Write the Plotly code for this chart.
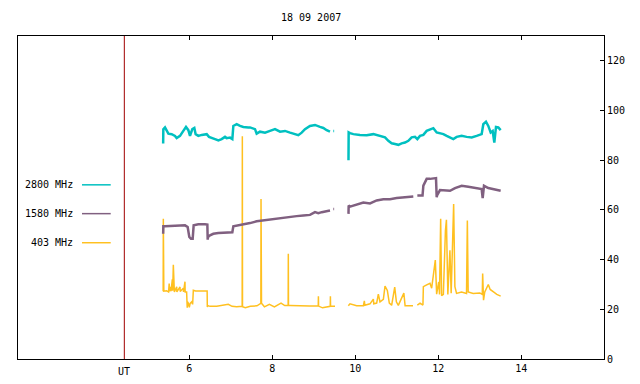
import plotly.graph_objects as go

# ---- data (UT hours, flux) ----
t2800 = [5.370, 5.374, 5.414, 5.455, 5.495, 5.575, 5.655, 5.696, 5.776, 5.856, 5.920, 5.977,
         6.017, 6.073, 6.121, 6.153, 6.218, 6.298, 6.419, 6.475, 6.539, 6.619, 6.700, 6.780,
         6.860, 6.900, 6.981, 7.037, 7.061, 7.141, 7.222, 7.302, 7.422, 7.463, 7.583, 7.623,
         7.704, 7.824, 7.945, 8.065, 8.186, 8.306, 8.427, 8.547, 8.627, 8.708, 8.788, 8.908,
         9.029, 9.149, 9.230, 9.310, 9.390, 9.420, 9.471, 9.490, 9.660,
         9.836, 9.840, 9.872, 9.953, 10.113, 10.274, 10.435, 10.595, 10.716, 10.796, 10.876,
         10.957, 11.037, 11.117, 11.198, 11.278, 11.358, 11.439, 11.495, 11.559, 11.640,
         11.720, 11.801, 11.881, 11.961, 12.041, 12.122, 12.202, 12.282, 12.362, 12.443,
         12.563, 12.684, 12.804, 12.925, 13.045, 13.085, 13.149, 13.205, 13.262, 13.310,
         13.350, 13.390, 13.446, 13.503]
f2800 = [86.7, 92.5, 93.2, 91.8, 90.7, 90.5, 89.8, 88.9, 89.8, 91.8, 93.4, 92.1,
         89.8, 92.5, 93.0, 90.5, 89.8, 90.2, 90.5, 89.4, 89.1, 88.5, 88.0, 88.5,
         89.4, 88.9, 89.1, 88.5, 93.8, 94.5, 93.8, 93.4, 93.2, 93.2, 92.5, 90.7,
         91.5, 91.1, 91.8, 92.5, 91.5, 91.8, 91.1, 90.5, 90.1, 91.1, 92.5, 93.8,
         94.2, 93.4, 93.0, 92.1, 91.5, None, 91.8, 91.8, None,
         80.0, 91.2, 90.9, 90.5, 90.2, 90.1, 90.5, 89.8, 89.2, 87.8, 86.8,
         86.5, 86.2, 86.8, 87.1, 87.8, 89.2, 89.4, 88.5, 89.8, 90.2,
         91.8, 92.5, 92.9, 91.2, 90.9, 90.5, 89.8, 89.2, 88.5, 89.4,
         89.8, 89.4, 89.2, 89.8, 90.5, 94.5, 95.5, 93.8, 91.2, 91.8,
         87.1, 93.4, 93.2, 92.1]

t1580 = [5.370, 5.374, 5.414, 5.575, 5.736, 5.896, 5.960, 6.000, 6.040, 6.081, 6.105,
         6.218, 6.378, 6.435, 6.443, 6.450, 6.499, 6.579, 6.700, 6.860, 6.981, 7.037,
         7.061, 7.181, 7.342, 7.463, 7.623, 7.784, 7.945, 8.106, 8.266, 8.427, 8.587,
         8.748, 8.908, 9.029, 9.109, 9.190, 9.270, 9.390, 9.420, 9.471, 9.490, 9.660,
         9.836, 9.840, 9.872, 10.033, 10.194, 10.354, 10.515, 10.676, 10.836, 10.997,
         11.158, 11.318, 11.398, 11.440, 11.495, 11.560, 11.620, 11.640, 11.720, 11.801,
         11.945, 11.961, 11.970, 12.041, 12.202, 12.282, 12.403, 12.563, 12.724, 12.885,
         13.045, 13.069, 13.101, 13.205, 13.326, 13.407, 13.503]
f1580 = [50.4, 53.4, 53.4, 53.5, 53.4, 53.8, 53.1, 49.1, 48.4, 48.4, 53.8,
         54.2, 54.2, 54.1, 48.0, 49.1, 49.8, 50.4, 50.7, 50.8, 51.0, 51.0,
         53.4, 53.8, 54.1, 54.7, 55.4, 55.8, 56.2, 56.4, 56.8, 57.1, 57.5,
         57.8, 58.0, 59.1, 58.7, 59.1, 59.5, 59.8, None, 60.4, 60.4, None,
         58.4, 61.8, 61.3, 62.1, 63.0, 62.6, 63.8, 64.3, 64.3, 64.8,
         65.1, 65.1, 65.4, None, 65.8, 65.8, 65.8, 69.8, 72.5, 72.5,
         72.8, 65.1, 65.8, 68.0, 68.0, 67.7, 68.8, 69.7, 69.3, 68.8,
         68.4, 64.8, 69.7, 68.8, 68.4, 68.0, 67.7]

t403 = [5.370, 5.374, 5.378, 5.382, 5.386, 5.450, 5.500, 5.515, 5.525, 5.551, 5.560,
        5.591, 5.600, 5.615, 5.622, 5.631, 5.640, 5.696, 5.700, 5.776, 5.780, 5.856,
        5.860, 5.896, 5.900, 5.935, 5.937, 5.950, 5.960, 5.977, 6.000, 6.020, 6.057,
        6.080, 6.097, 6.150, 6.250, 6.350, 6.430, 6.434, 6.450, 6.499, 6.660, 6.940,
        7.030, 7.141, 7.274, 7.278, 7.282, 7.350, 7.470, 7.630, 7.724, 7.728, 7.732,
        7.740, 7.810, 7.930, 8.050, 8.210, 8.300, 8.382, 8.386, 8.390, 8.430, 8.660,
        8.900, 9.107, 9.111, 9.115, 9.210, 9.310, 9.396, 9.400, 9.404, 9.511, 9.600,
        9.832, 9.872, 10.033, 10.194, 10.218, 10.230, 10.354, 10.435, 10.445, 10.515,
        10.555, 10.595, 10.676, 10.716, 10.772, 10.820, 10.876, 10.950, 10.990, 11.037,
        11.170, 11.200, 11.390, 11.440,
        11.495, 11.560, 11.630, 11.640, 11.720, 11.800, 11.840, 11.896, 11.928, 11.960,
        12.010, 12.030, 12.057, 12.080, 12.122, 12.172, 12.196, 12.230, 12.280, 12.310,
        12.346, 12.370, 12.400, 12.440, 12.560, 12.680, 12.700, 12.720, 12.840, 13.000,
        13.060, 13.069, 13.090, 13.120, 13.205, 13.250, 13.330, 13.410, 13.503]
f403 = [27.3, 56.4, 27.3, 44.4, 27.3, 27.5, 27.0, 30.4, 27.2, 29.1, 27.3,
        32.1, 27.5, 37.9, 27.5, 31.7, 27.0, 29.1, 27.0, 29.0, 27.2, 28.5,
        27.0, 31.1, 27.0, 27.0, 23.0, 20.6, 23.0, 22.4, 20.8, 22.4, 23.0,
        22.0, 27.7, 27.4, 27.4, 27.4, 27.4, 20.9, 21.5, 21.2, 21.2, 22.0,
        21.2, 21.0, 21.2, 89.7, 21.0, 20.6, 21.2, 21.4, 22.4, 64.4, 23.0,
        22.4, 21.0, 22.0, 21.0, 22.5, 21.5, 21.5, 42.4, 21.5, 21.5, 21.3,
        21.3, 21.3, 25.3, 21.3, 20.6, 21.0, 21.2, 25.3, 21.2, 21.2, None,
        21.4, 22.2, 21.4, 21.4, 23.4, 21.6, 22.2, 24.1, 22.2, 22.5,
        26.1, 23.0, 24.0, 29.3, 27.6, 22.5, 21.6, 28.9, 23.0, 21.6,
        26.5, 21.4, 21.4, None,
        21.7, 22.5, 21.7, 29.1, 29.8, 30.5, 28.5, 37.1, 39.8, 26.1,
        31.0, 26.0, 56.4, 25.5, 26.0, 51.7, 56.0, 26.0, 43.8, 26.5,
        48.4, 62.4, 29.1, 26.4, 27.0, 26.4, 55.7, 27.0, 26.4, 26.6,
        26.0, 34.4, 23.7, 27.0, 30.0, 28.0, 27.0, 26.0, 25.3]

x_ticks = [6, 8, 10, 12, 14]
y_ticks = [0, 20, 40, 60, 80, 100, 120]
ut_time = 4.434
series_names = ["2800 MHz", "1580 MHz", "403 MHz"]
title_text = "18 09 2007"

FONT = "DejaVu Sans Mono"
C2800, C1580, C403 = "#00c0c0", "#806080", "#ffc020"

fig = go.Figure()
fig.add_trace(go.Scatter(x=t403, y=f403, mode="lines", line=dict(color=C403, width=1.5), showlegend=False))
fig.add_trace(go.Scatter(x=t1580, y=f1580, mode="lines", line=dict(color=C1580, width=2.5), showlegend=False))
fig.add_trace(go.Scatter(x=t2800, y=f2800, mode="lines", line=dict(color=C2800, width=2.5), showlegend=False))

# red UT marker line
fig.add_shape(type="line", x0=ut_time, x1=ut_time, y0=0, y1=130, xref="x", yref="y",
              line=dict(color="#a00000", width=1))
fig.add_annotation(x=ut_time, y=0, xref="x", yref="y", yshift=-12, yanchor="middle",
                   text="UT", showarrow=False,
                   font=dict(family=FONT, size=10, color="black"))

# manual legend (text left, sample line right)
leg_y = [70.1, 58.5, 46.8]
leg_col = [C2800, C1580, C403]
for name, yy, col in zip(series_names, leg_y, leg_col):
    fig.add_annotation(x=3.25, y=yy, xref="x", yref="y", text=name, showarrow=False,
                       xanchor="right", yanchor="middle",
                       font=dict(family=FONT, size=10, color="black"))
    fig.add_shape(type="line", x0=3.414, x1=4.106, y0=yy, y1=yy, xref="x", yref="y",
                  line=dict(color=col, width=1.5))

fig.add_annotation(x=0.5, y=1, xref="paper", yref="paper", yshift=19, yanchor="middle",
                   text=title_text, showarrow=False,
                   font=dict(family=FONT, size=10, color="black"))

fig.update_layout(
    width=632, height=376,
    margin=dict(l=10, r=36, t=28, b=25),
    paper_bgcolor="white", plot_bgcolor="white",
    font=dict(family=FONT, size=10, color="black"),
    xaxis=dict(range=[1.872, 15.993], tickvals=x_ticks, ticks="inside", ticklen=4,
               tickcolor="black", showgrid=False, zeroline=False, showline=True,
               linecolor="black", linewidth=1, mirror="ticks", automargin=False),
    yaxis=dict(range=[0, 130], tickvals=y_ticks, side="right", ticks="inside", ticklen=4,
               tickcolor="black", showgrid=False, zeroline=False, showline=True,
               linecolor="black", linewidth=1, mirror=True, automargin=False),
)
fig.write_html("out.html")
